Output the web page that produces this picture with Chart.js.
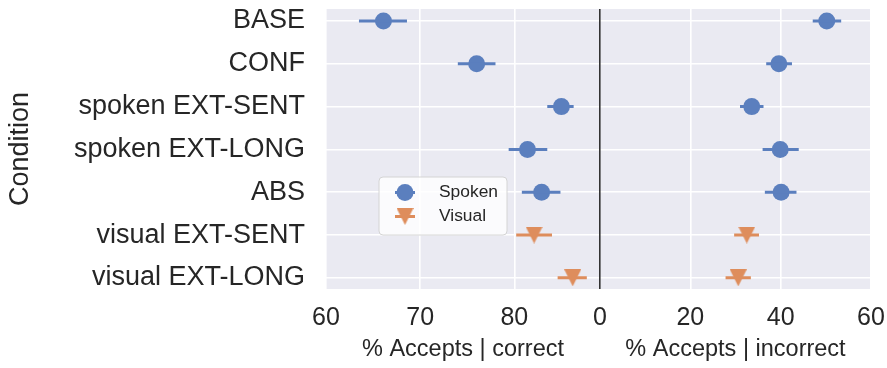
<!DOCTYPE html>
<html>
<head>
<meta charset="utf-8">
<script src="https://cdn.jsdelivr.net/npm/chart.js@4.4.1/dist/chart.umd.min.js"></script>
<style>
  body { margin: 0; background: #fff; }
  canvas { display: block; }
</style>
</head>
<body>
<canvas id="chart" width="887" height="368"></canvas>
<script>
// values
const conditions = ["BASE", "CONF", "spoken EXT-SENT", "spoken EXT-LONG", "ABS", "visual EXT-SENT", "visual EXT-LONG"];
const modality = ["Spoken", "Spoken", "Spoken", "Spoken", "Spoken", "Visual", "Visual"];

const correctMean = [66.1, 76.0, 85.0, 81.4, 82.9, 82.1, 86.2];
const correctLo = [63.5, 74.0, 83.5, 79.4, 80.8, 80.2, 84.6];
const correctHi = [68.6, 78.0, 86.3, 83.5, 84.9, 84.0, 87.7];

const incorrectMean = [50.2, 39.6, 33.6, 39.9, 40.1, 32.5, 30.6];
const incorrectLo = [47.1, 36.8, 31.0, 36.0, 36.5, 29.7, 27.8];
const incorrectHi = [53.4, 42.5, 36.2, 44.0, 43.5, 35.2, 33.4];

const correctTicks = [60, 70, 80];
const incorrectTicks = [0, 20, 40, 60];

const groups = ["Spoken", "Visual"];
const colors = { Spoken: "#5b7fbe", Visual: "#de8d5c" };
const textColor = "#262626";
const font = "'Liberation Sans', Arial, sans-serif";

// matplotlib style "v" marker: as wide as it is tall
function triangleDown(size, color) {
  const c = document.createElement("canvas");
  c.width = size;
  c.height = size;
  const g = c.getContext("2d");
  g.fillStyle = color;
  g.beginPath();
  g.moveTo(0, 0);
  g.lineTo(size, 0);
  g.lineTo(size / 2, size);
  g.closePath();
  g.fill();
  return c;
}
const markers = {
  Spoken: { pointStyle: "circle", pointRadius: 8.5 },
  Visual: { pointStyle: triangleDown(17, colors.Visual), pointRadius: 8.5 },
};

function errorData(lo, hi, group) {
  const out = [];
  lo.forEach((v, i) => {
    if (modality[i] !== group) return;
    out.push({ x: v, y: i }, { x: hi[i], y: i }, { x: null, y: null });
  });
  return out;
}
function pointData(mean, group) {
  return mean
    .map((v, i) => ({ x: v, y: i }))
    .filter((p) => modality[p.y] === group);
}

const datasets = [];
[
  ["xC", correctMean, correctLo, correctHi],
  ["xI", incorrectMean, incorrectLo, incorrectHi],
].forEach(([axis, mean, lo, hi]) => {
  groups.forEach((g) => {
    datasets.push({
      type: "line",
      label: g + " ci",
      xAxisID: axis,
      data: errorData(lo, hi, g),
      borderColor: colors[g],
      borderWidth: 3,
      borderCapStyle: "butt",
      pointRadius: 0,
      spanGaps: false,
      fill: false,
    });
    datasets.push({
      type: "scatter",
      label: g,
      xAxisID: axis,
      data: pointData(mean, g),
      backgroundColor: colors[g],
      borderWidth: 0,
      pointStyle: markers[g].pointStyle,
      pointRadius: markers[g].pointRadius,
    });
  });
});

const backdrop = {
  id: "backdrop",
  beforeDraw(chart) {
    const { ctx, chartArea: a } = chart;
    ctx.save();
    ctx.fillStyle = "#eaeaf2";
    ctx.fillRect(a.left, a.top, a.right - a.left, a.bottom - a.top);
    ctx.restore();
  },
};

const legendBox = {
  id: "legendBox",
  afterDraw(chart) {
    const { ctx, chartArea: a } = chart;
    const x = a.left + 53, y = a.top + 168, w = 128, h = 58;
    ctx.save();
    ctx.beginPath();
    ctx.roundRect(x, y, w, h, 4);
    ctx.fillStyle = "rgba(255,255,255,0.8)";
    ctx.fill();
    ctx.strokeStyle = "#d4d4d4";
    ctx.lineWidth = 1;
    ctx.stroke();
    groups.forEach((g, i) => {
      const cy = y + 15.5 + i * 24;
      const mx = x + 26;
      ctx.strokeStyle = colors[g];
      ctx.lineWidth = 3;
      ctx.beginPath();
      ctx.moveTo(mx - 10, cy);
      ctx.lineTo(mx + 10, cy);
      ctx.stroke();
      ctx.fillStyle = colors[g];
      Chart.helpers.drawPoint(ctx, {
        pointStyle: markers[g].pointStyle,
        radius: markers[g].pointRadius,
        rotation: 0,
        borderWidth: 0,
      }, mx, cy);
      ctx.fillStyle = textColor;
      ctx.font = "17.4px " + font;
      ctx.textBaseline = "middle";
      ctx.fillText(g, x + 60, cy);
    });
    ctx.restore();
  },
};

function xAxis(ticks, min, max, title, weight) {
  return {
    type: "linear",
    position: "bottom",
    stack: "panels",
    stackWeight: weight,
    min: min,
    max: max,
    afterBuildTicks: (s) => { s.ticks = ticks.map((v) => ({ value: v })); },
    afterFit: (s) => {
      s.height = 79;
      s.paddingLeft = 0;
      s.paddingRight = 0;
    },
    border: { display: false },
    grid: {
      drawTicks: false,
      lineWidth: 1.6,
      color: (c) => (c.tick && c.tick.value === 0 ? "#333333" : "#ffffff"),
    },
    ticks: { color: textColor, padding: 14, font: { family: font, size: 25 } },
    title: {
      display: true,
      text: title,
      color: textColor,
      padding: { top: 0, bottom: 4.5 },
      font: { family: font, size: 23.5 },
    },
  };
}

new Chart(document.getElementById("chart"), {
  type: "scatter",
  data: { datasets: datasets },
  plugins: [backdrop, legendBox],
  options: {
    responsive: false,
    animation: false,
    layout: { padding: { top: 9, right: 16, left: 0, bottom: 0 } },
    plugins: { legend: { display: false }, tooltip: { enabled: false } },
    scales: {
      y: {
        type: "linear",
        reverse: true,
        min: -0.28,
        max: 6.26,
        afterBuildTicks: (s) => { s.ticks = conditions.map((c, i) => ({ value: i })); },
        afterFit: (s) => {
          s.width = 326;
          s.paddingTop = 0;
          s.paddingBottom = 0;
        },
        border: { display: false },
        grid: { drawTicks: false, lineWidth: 1.6, color: "#ffffff" },
        ticks: {
          color: textColor,
          padding: 21,
          font: { family: font, size: 27 },
          callback: (v) => conditions[v],
        },
        title: {
          display: true,
          text: "Condition",
          color: textColor,
          padding: { top: 4.8, bottom: 0 },
          font: { family: font, size: 27 },
        },
      },
      xC: xAxis(correctTicks, 60, 89.1, "% Accepts | correct", 274),
      xI: xAxis(incorrectTicks, 0, 60, "% Accepts | incorrect", 271),
    },
  },
});
</script>
</body>
</html>
